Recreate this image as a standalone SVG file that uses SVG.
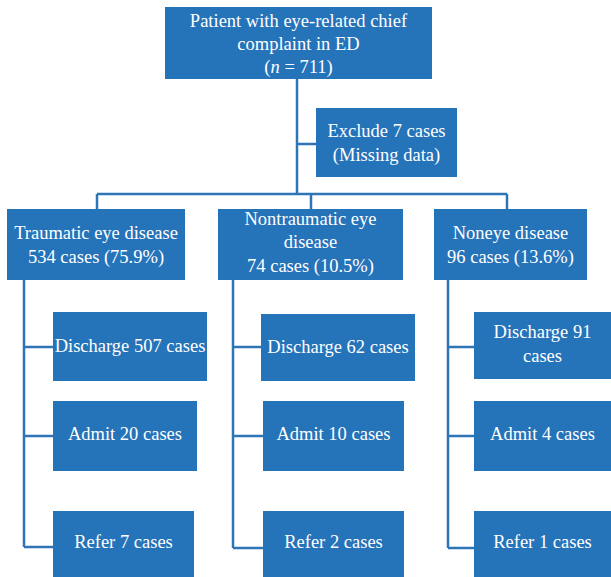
<svg xmlns="http://www.w3.org/2000/svg" width="611" height="577" viewBox="0 0 611 577">
<style>
.box{fill:#2573B9;}
.t{font-family:"Liberation Serif","Times New Roman",serif;font-size:18.5px;fill:#ffffff;text-anchor:middle;}
.ln{stroke:#2E75B6;stroke-width:2.5;fill:none;}
</style>
<rect width="611" height="577" fill="#ffffff"/>
<g id="connectors">
<path class="ln" d="M297,79 V194 M297,144 H316 M97,194 H507 M97,194 V209 M311,194 V209 M507,194 V209"/>
<path class="ln" d="M24,280 V547 M24,347 H53 M24,436 H53 M24,547 H53"/>
<path class="ln" d="M233,280 V548 M233,347 H261 M233,436 H263 M233,548 H263"/>
<path class="ln" d="M448,280 V548 M448,347 H474 M448,436 H474 M448,548 H474"/>
</g>
<g id="root"><rect class="box" x="165" y="7" width="267" height="72"/>
<text class="t" x="298.5" y="27">Patient with eye-related chief</text>
<text class="t" x="298.5" y="50">complaint in ED</text>
<text class="t" x="298.5" y="73">(<tspan font-style="italic">n</tspan> = 711)</text></g>
<g id="exclude"><rect class="box" x="316" y="108" width="141" height="69"/>
<text class="t" x="386.5" y="137">Exclude 7 cases</text>
<text class="t" x="386.5" y="161">(Missing data)</text></g>
<g id="traumatic"><rect class="box" x="7" y="209" width="178" height="71"/>
<text class="t" x="96" y="239">Traumatic eye disease</text>
<text class="t" x="96" y="263">534 cases (75.9%)</text></g>
<g id="nontraumatic"><rect class="box" x="218" y="209" width="185" height="71"/>
<text class="t" x="310.5" y="225">Nontraumatic eye</text>
<text class="t" x="310.5" y="248">disease</text>
<text class="t" x="310.5" y="272">74 cases (10.5%)</text></g>
<g id="noneye"><rect class="box" x="434" y="209" width="153" height="71"/>
<text class="t" x="510.5" y="239">Noneye disease</text>
<text class="t" x="510.5" y="263">96 cases (13.6%)</text></g>
<g id="discharge507"><rect class="box" x="53" y="312" width="154" height="69"/>
<text class="t" x="130" y="352">Discharge 507 cases</text></g>
<g id="admit20"><rect class="box" x="53" y="401" width="144" height="70"/>
<text class="t" x="125" y="440">Admit 20 cases</text></g>
<g id="refer7"><rect class="box" x="53" y="511" width="141" height="66"/>
<text class="t" x="123.5" y="548">Refer 7 cases</text></g>
<g id="discharge62"><rect class="box" x="261" y="314" width="154" height="67"/>
<text class="t" x="338" y="353">Discharge 62 cases</text></g>
<g id="admit10"><rect class="box" x="263" y="401" width="141" height="70"/>
<text class="t" x="333.5" y="440">Admit 10 cases</text></g>
<g id="refer2"><rect class="box" x="263" y="511" width="141" height="66"/>
<text class="t" x="333.5" y="548">Refer 2 cases</text></g>
<g id="discharge91"><rect class="box" x="474" y="312" width="137" height="67"/>
<text class="t" x="542.5" y="338">Discharge 91</text>
<text class="t" x="542.5" y="362">cases</text></g>
<g id="admit4"><rect class="box" x="474" y="401" width="137" height="70"/>
<text class="t" x="542.5" y="440">Admit 4 cases</text></g>
<g id="refer1"><rect class="box" x="474" y="511" width="137" height="66"/>
<text class="t" x="542.5" y="548">Refer 1 cases</text></g>
</svg>
